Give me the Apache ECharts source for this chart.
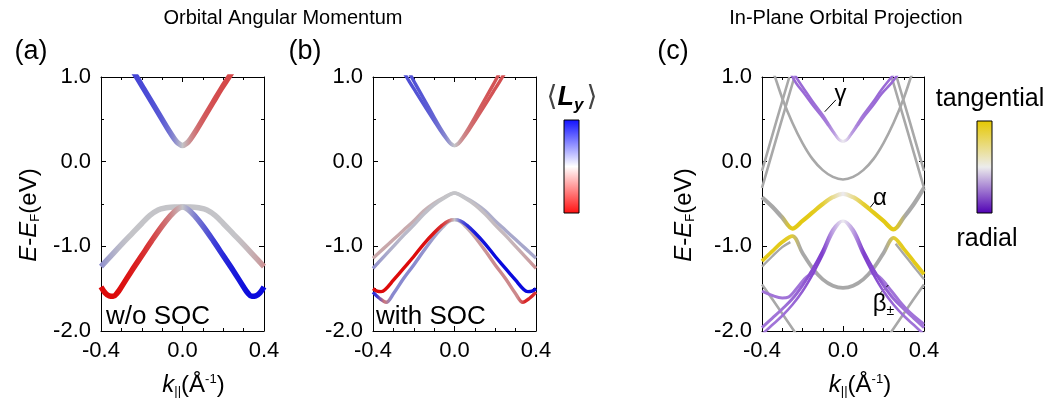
<!DOCTYPE html>
<html><head><meta charset="utf-8">
<script src="https://cdn.jsdelivr.net/npm/echarts@6/dist/echarts.min.js"></script>
<style>html,body{margin:0;padding:0;background:#fff}#c{width:1051px;height:407px}</style>
</head><body><div id="c"></div><script>
// ---------- tick labels ----------
const xTickValues = [-0.4, 0.0, 0.4];
const yTickValues = [1.0, 0.0, -1.0, -2.0];

// ---------- panel (a): w/o SOC ----------
const kA1 = [-0.26,-0.225,-0.19,-0.15,-0.10,-0.07,-0.04,-0.02,0,0.02,0.04,0.07,0.10,0.15,0.19,0.228,0.26];
const eA1 = [1.13,1.00,0.86,0.70,0.50,0.38,0.27,0.215,0.19,0.215,0.27,0.38,0.50,0.70,0.86,1.00,1.12];
const lyA1 = [0.65,0.65,0.63,0.6,0.54,0.45,0.3,0.15,0,-0.15,-0.3,-0.45,-0.54,-0.6,-0.63,-0.65,-0.65];

const kA2 = [-0.4,-0.35,-0.3,-0.25,-0.2,-0.16,-0.12,-0.08,-0.04,0,0.04,0.08,0.12,0.16,0.2,0.25,0.3,0.35,0.4];
const eA2 = [-1.24,-1.11,-0.98,-0.855,-0.73,-0.635,-0.57,-0.545,-0.535,-0.535,-0.535,-0.545,-0.57,-0.635,-0.73,-0.855,-0.98,-1.11,-1.24];
const lyA2 = [0.3,0.15,0.05,0,0,0,0,0,0,0,0,0,0,0,0,0,-0.05,-0.15,-0.3];

const kA3 = [-0.4,-0.38,-0.36,-0.34,-0.32,-0.3,-0.25,-0.2,-0.15,-0.1,-0.06,-0.03,0,0.03,0.06,0.1,0.15,0.2,0.25,0.3,0.32,0.34,0.36,0.38,0.4];
const eA3 = [-1.48,-1.55,-1.585,-1.59,-1.55,-1.48,-1.29,-1.11,-0.93,-0.76,-0.64,-0.57,-0.535,-0.57,-0.64,-0.76,-0.93,-1.11,-1.29,-1.48,-1.55,-1.59,-1.585,-1.55,-1.48];
const lyA3 = [-0.95,-0.95,-0.95,-0.95,-0.95,-0.93,-0.88,-0.8,-0.68,-0.5,-0.35,-0.18,0,0.18,0.35,0.5,0.68,0.8,0.88,0.93,0.95,0.95,0.95,0.95,0.95];

// ---------- panel (b): with SOC ----------
const kB1 = [-0.27,-0.22,-0.19,-0.15,-0.10,-0.07,-0.04,-0.02,0,0.02,0.04,0.07,0.10,0.15,0.19,0.22,0.27];
const eB1a = [1.24,1.04,0.91,0.74,0.525,0.40,0.287,0.221,0.19,0.221,0.287,0.40,0.525,0.74,0.91,1.04,1.24];
const eB1b = [1.14,0.94,0.825,0.672,0.482,0.372,0.27,0.213,0.19,0.213,0.27,0.372,0.482,0.672,0.825,0.94,1.14];
const lyB1 = [0.6,0.6,0.58,0.56,0.5,0.42,0.3,0.15,0,-0.15,-0.3,-0.42,-0.5,-0.56,-0.58,-0.6,-0.6];

const kB2 = [-0.4,-0.35,-0.3,-0.25,-0.2,-0.15,-0.1,-0.05,0,0.05,0.1,0.15,0.2,0.25,0.3,0.35,0.4];
const eB2a = [-1.14,-1.03,-0.92,-0.81,-0.70,-0.58,-0.49,-0.42,-0.37,-0.42,-0.49,-0.58,-0.70,-0.81,-0.92,-1.03,-1.14];
const eB2b = [-1.26,-1.13,-1.00,-0.87,-0.75,-0.62,-0.51,-0.43,-0.37,-0.43,-0.51,-0.62,-0.75,-0.87,-1.00,-1.13,-1.26];
const lyB2a = [-0.15,-0.15,-0.15,-0.14,-0.12,-0.1,-0.06,-0.03,0,0.03,0.06,0.1,0.12,0.14,0.15,0.15,0.15];
const lyB2b = [0.3,0.18,0.1,0.06,0.05,0.03,0.02,0,0,0,-0.02,-0.03,-0.05,-0.06,-0.1,-0.18,-0.3];

const kB3 = [-0.4,-0.38,-0.36,-0.34,-0.3,-0.25,-0.2,-0.15,-0.1,-0.06,-0.03,0,0.03,0.06,0.1,0.15,0.2,0.25,0.3,0.34,0.36,0.38,0.4];
const eB3 = [-1.50,-1.53,-1.535,-1.51,-1.40,-1.26,-1.12,-0.97,-0.84,-0.75,-0.70,-0.685,-0.70,-0.75,-0.84,-0.97,-1.12,-1.26,-1.40,-1.51,-1.535,-1.53,-1.50];
const lyB3 = [-0.95,-0.95,-0.95,-0.95,-0.95,-0.95,-0.95,-0.93,-0.88,-0.75,-0.5,0,0.5,0.75,0.88,0.93,0.95,0.95,0.95,0.95,0.95,0.95,0.95];

const kB4 = [-0.4,-0.37,-0.335,-0.3,-0.25,-0.2,-0.15,-0.1,-0.06,-0.03,0,0.03,0.06,0.1,0.15,0.2,0.25,0.3,0.335,0.37,0.4];
const eB4 = [-1.54,-1.61,-1.66,-1.56,-1.38,-1.22,-1.05,-0.89,-0.78,-0.71,-0.685,-0.71,-0.78,-0.89,-1.05,-1.22,-1.38,-1.56,-1.66,-1.61,-1.54];
const lyB4 = [0.85,0.7,-0.4,0.3,0.3,0.3,0.25,0.2,0.1,0.05,0,-0.05,-0.1,-0.2,-0.25,-0.3,-0.3,-0.3,-0.8,-0.8,-0.6];

// ---------- panel (c): in-plane orbital projection (null = not projected, grey) ----------
const kCg1 = [-0.36,-0.34,-0.3,-0.25,-0.2,-0.15,-0.1,-0.05,0,0.05,0.1,0.15,0.2,0.25,0.3,0.34,0.36];
const eCg1 = [1.15,1.03,0.75,0.46,0.22,0.03,-0.10,-0.18,-0.21,-0.18,-0.10,0.03,0.22,0.46,0.75,1.03,1.15];
const kCg2 = [0.24,0.32,0.4];
const eCg2 = [1.0,0.35,-0.31];
const kCg3 = [0.265,0.33,0.4];
const eCg3 = [1.0,0.47,-0.11];
const kCg4 = [-0.4,-0.32,-0.24];
const eCg4 = [-0.31,0.35,1.0];
const kCg5 = [-0.4,-0.33,-0.265];
const eCg5 = [-0.11,0.47,1.0];
const kCg6 = [-0.4,-0.346,-0.227];
const eCg6 = [-1.45,-1.635,-2.05];
const kCg7 = [0.227,0.346,0.4];
const eCg7 = [-2.05,-1.635,-1.45];
const kCg8 = [-0.4,-0.35,-0.3,-0.26];
const eCg8 = [-1.24,-1.12,-1.01,-0.95];
const kCg9 = [0.26,0.3,0.35,0.4];
const eCg9 = [-0.97,-1.09,-1.24,-1.39];

const kCgam = [-0.26,-0.232,-0.19,-0.15,-0.10,-0.07,-0.04,-0.02,0,0.02,0.04,0.07,0.10,0.15,0.19,0.24,0.27];
const eCgam1 = [1.12,1.00,0.85,0.71,0.55,0.44,0.33,0.265,0.24,0.265,0.33,0.44,0.55,0.71,0.85,1.00,1.10];
const eCgam2 = [1.05,0.93,0.80,0.67,0.52,0.42,0.32,0.26,0.24,0.26,0.32,0.42,0.52,0.67,0.80,0.93,1.03];
const opCgam = [-0.6,-0.6,-0.6,-0.6,-0.55,-0.5,-0.35,-0.15,0,-0.15,-0.35,-0.5,-0.55,-0.6,-0.6,-0.6,-0.6];

const kCa = [-0.4,-0.35,-0.3,-0.25,-0.2,-0.15,-0.1,-0.05,0,0.05,0.1,0.15,0.2,0.25,0.3,0.35,0.4];
const eCa = [-0.42,-0.53,-0.66,-0.79,-0.70,-0.60,-0.50,-0.42,-0.38,-0.42,-0.50,-0.60,-0.70,-0.80,-0.66,-0.50,-0.31];
const opCa = [null,null,null,0.9,0.92,0.9,0.8,0.4,0,0.4,0.8,0.9,0.92,0.9,null,null,null];

const kCl = [-0.4,-0.35,-0.3,-0.25,-0.2,-0.15,-0.1,-0.05,0,0.05,0.1,0.15,0.2,0.25,0.3,0.35,0.4];
const eCl = [-1.175,-1.06,-0.95,-0.88,-1.08,-1.26,-1.39,-1.465,-1.49,-1.465,-1.39,-1.26,-1.08,-0.90,-1.03,-1.18,-1.33];
const opCl = [0.9,0.9,0.9,0.8,null,null,null,null,null,null,null,null,null,0.8,0.9,0.9,0.9];

const kCb1 = [-0.4,-0.35,-0.3,-0.25,-0.2,-0.15,-0.1,-0.05,0,0.05,0.1,0.15,0.2,0.25,0.3,0.35,0.4];
const eCb1 = [-1.96,-1.85,-1.74,-1.62,-1.46,-1.27,-1.05,-0.80,-0.70,-0.80,-1.05,-1.27,-1.46,-1.62,-1.74,-1.85,-1.96];
const eCb1b = [-2.04,-1.93,-1.82,-1.69,-1.53,-1.33,-1.10,-0.84,-0.70,-0.84,-1.10,-1.33,-1.53,-1.69,-1.82,-1.93,-2.04];
const opCb1 = [-0.55,-0.55,-0.55,-0.6,-0.65,-0.75,-0.8,-0.35,0,-0.35,-0.8,-0.75,-0.65,-0.6,-0.55,-0.55,-0.55];

const kCb2 = [-0.4,-0.35,-0.3,-0.27,-0.22,-0.18,-0.134];
const eCb2 = [-1.53,-1.58,-1.61,-1.60,-1.47,-1.36,-1.31];
const kCb3 = [0.134,0.18,0.22,0.28,0.33,0.4];
const eCb3 = [-1.31,-1.36,-1.47,-1.65,-1.78,-1.92];
const opCb2 = [-0.55,-0.55,-0.55,-0.55,-0.55,-0.5,-0.4];
const opCb3 = [-0.4,-0.5,-0.55,-0.55,-0.55,-0.55];

// ---------- helpers ----------
const FONT = '"Liberation Sans", Arial, "DejaVu Sans", sans-serif';
function mix(a, b, t) { return a.map((v, i) => Math.round(v + (b[i] - v) * t)); }
function rgb(c) { return 'rgb(' + c.join(',') + ')'; }
function lyColor(v) {            // <L_y>: red (-) / grey-white (0) / blue (+)
  const red = [222, 0, 0], mid = [196, 196, 200], blue = [0, 0, 222];
  return rgb(v < 0 ? mix(mid, red, -v) : mix(mid, blue, v));
}
function opColor(v) {            // radial (-) purple / tangential (+) yellow
  if (v === null) return 'rgb(168,168,168)';
  const pur = [100, 20, 196], mid = [236, 234, 240], yel = [226, 198, 0];
  return rgb(v < 0 ? mix(mid, pur, -v) : mix(mid, yel, v));
}
function gradient(ks, vals, cmap) {
  const k0 = ks[0], kN = ks[ks.length - 1];
  return { type: 'linear', x: 0, y: 0, x2: 1, y2: 0, global: false,
    colorStops: ks.map((k, i) => ({ offset: (k - k0) / (kN - k0), color: cmap(vals[i]) })) };
}
function band(grid, ks, es, vals, cmap, width, z, extra) {
  const s = {
    type: 'line', xAxisIndex: grid, yAxisIndex: grid, z: z || 2,
    data: ks.map((k, i) => [k, es[i]]), smooth: ks.length > 3 ? 0.35 : false, showSymbol: false, symbol: 'none',
    silent: true, animation: false, clip: true,
    lineStyle: { width: width, color: vals ? gradient(ks, vals, cmap) : cmap, cap: 'butt', join: 'round' }
  };
  return Object.assign(s, extra || {});
}
const GREY = 'rgb(168,168,168)';

// ---------- grids / axes ----------
const grids = [
  { left: 101, top: 77, width: 163, height: 254 },
  { left: 373, top: 77, width: 163, height: 254 },
  { left: 762, top: 77, width: 162, height: 254 }
];
const tickStyle = { color: '#000', fontSize: 22, fontFamily: FONT };
const xAxes = [], yAxes = [];
const richName = {
  i: { fontStyle: 'italic', fontSize: 24, fontFamily: FONT, color: '#000' },
  n: { fontSize: 24, fontFamily: FONT, color: '#000' },
  s: { fontSize: 13, fontFamily: FONT, color: '#000', padding: [13, 0, 0, 0] },
  p: { fontSize: 13, fontFamily: FONT, color: '#000', padding: [0, 0, 11, 0] }
};
grids.forEach((g, i) => {
  const common = {
    gridIndex: i, type: 'value', min: -0.4, max: 0.4, interval: 0.4,
    axisLine: { show: true, onZero: false, lineStyle: { color: '#000', width: 1 } },
    axisTick: { show: true, inside: true, length: 5, lineStyle: { color: '#000' } },
    minorTick: { show: true, splitNumber: 4, length: 3, lineStyle: { color: '#000' } },
    splitLine: { show: false }
  };
  xAxes.push(Object.assign({}, common, {
    position: 'bottom',
    axisLabel: { show: true, margin: 9, formatter: v => xTickValues.includes(+v.toFixed(1)) ? v.toFixed(1) : '', ...tickStyle },
    name: (i === 1) ? '' : '{i|k}{s|||}{n|(Å}{p|-1}{n|)}',
    nameLocation: 'middle', nameGap: 41,
    nameTextStyle: { rich: richName, padding: [0, 0, 0, (i === 0 ? 22 : 34)] }
  }));
  yAxes.push({
    gridIndex: i, type: 'value', min: -2, max: 1, interval: 1, position: 'left',
    axisLine: { show: true, onZero: false, lineStyle: { color: '#000', width: 1 } },
    axisTick: { show: true, inside: true, length: 5, lineStyle: { color: '#000' } },
    minorTick: { show: true, splitNumber: 2, length: 3, lineStyle: { color: '#000' } },
    splitLine: { show: false },
    axisLabel: { show: true, margin: 10, formatter: v => yTickValues.includes(+v.toFixed(1)) ? v.toFixed(1) : '', ...tickStyle },
    name: (i === 1) ? '' : '{i|E}{n|-}{i|E}{s|F}{n|(eV)}',
    nameLocation: 'middle', nameRotate: 90, nameGap: (i === 0 ? 59 : 65),
    nameTextStyle: { rich: richName, padding: [0, 22, 0, 0] }
  });
});
grids.forEach((g, i) => {
  xAxes.push({
    gridIndex: i, type: 'value', min: -0.4, max: 0.4, interval: 0.4, position: 'top',
    axisLine: { show: true, onZero: false, lineStyle: { color: '#000', width: 1 } },
    axisTick: { show: true, inside: true, length: 5, lineStyle: { color: '#000' } },
    minorTick: { show: true, splitNumber: 4, length: 3, lineStyle: { color: '#000' } },
    axisLabel: { show: false }, splitLine: { show: false }
  });
  yAxes.push({
    gridIndex: i, type: 'value', min: -2, max: 1, interval: 1, position: 'right',
    axisLine: { show: true, onZero: false, lineStyle: { color: '#000', width: 1 } },
    axisTick: { show: true, inside: true, length: 5, lineStyle: { color: '#000' } },
    minorTick: { show: true, splitNumber: 2, length: 3, lineStyle: { color: '#000' } },
    axisLabel: { show: false }, splitLine: { show: false }
  });
});

// ---------- series ----------
const series = [
  band(0, kA2, eA2, lyA2, lyColor, 5.5, 2),
  band(0, kA1, eA1, lyA1, lyColor, 5.5, 3),
  band(0, kA3, eA3, lyA3, lyColor, 5.5, 4),

  band(1, kB2, eB2a, lyB2a, lyColor, 3.4, 2),
  band(1, kB2, eB2b, lyB2b, lyColor, 3.4, 2),
  band(1, kB1, eB1a, lyB1, lyColor, 3.4, 3),
  band(1, kB1, eB1b, lyB1, lyColor, 3.4, 3),
  band(1, kB4, eB4, lyB4, lyColor, 3.4, 4),
  band(1, kB3, eB3, lyB3, lyColor, 3.4, 5),

  band(2, kCg1, eCg1, null, GREY, 2.6, 2),
  band(2, kCg2, eCg2, null, GREY, 2.6, 2),
  band(2, kCg3, eCg3, null, GREY, 2.6, 2),
  band(2, kCg4, eCg4, null, GREY, 2.6, 2),
  band(2, kCg5, eCg5, null, GREY, 2.6, 2),
  band(2, kCg6, eCg6, null, GREY, 2.6, 2),
  band(2, kCg7, eCg7, null, GREY, 2.6, 2),
  band(2, kCg8, eCg8, null, GREY, 2.4, 2),
  band(2, kCg9, eCg9, null, GREY, 2.4, 2),
  band(2, kCl, eCl, opCl, opColor, 3.8, 3),
  band(2, kCb2, eCb2, opCb2, opColor, 3, 4),
  band(2, kCb3, eCb3, opCb3, opColor, 3, 4),
  band(2, kCb1, eCb1b, opCb1, opColor, 2.6, 5),
  band(2, kCb1, eCb1, opCb1, opColor, 3, 5),
  band(2, kCa, eCa, opCa, opColor, 4.2, 6),
  band(2, kCgam, eCgam2, opCgam, opColor, 2.6, 6),
  band(2, kCgam, eCgam1, opCgam, opColor, 2.6, 7, {
    markLine: {
      silent: true, animation: false, symbol: ['none', 'none'],
      lineStyle: { color: '#000', width: 1, type: 'solid' }, label: { show: false },
      data: [
        [{ coord: [-0.09, 0.59] }, { coord: [-0.035, 0.73] }],
        [{ coord: [0.126, -0.565] }, { coord: [0.159, -0.467] }],
        [{ coord: [0.224, -1.457] }, { coord: [0.177, -1.57] }]
      ]
    },
    markPoint: {
      silent: true, animation: false, symbol: 'circle', symbolSize: 1,
      itemStyle: { color: 'rgba(0,0,0,0)' },
      label: { show: true, position: 'inside', color: '#000', fontSize: 24, fontFamily: FONT,
        formatter: p => p.name,
        rich: { b: { fontSize: 24, fontFamily: FONT }, s: { fontSize: 14, fontFamily: FONT, padding: [13, 0, 0, 0] } } },
      data: [
        { name: 'γ', coord: [-0.012, 0.80] },
        { name: 'α', coord: [0.183, -0.43] },
        { name: '{b|β}{s|±}', coord: [0.2, -1.69] }
      ]
    }
  })
];

// ---------- annotations ----------
const graphic = [
  { type: 'text', x: 283, y: 18, style: { text: 'Orbital Angular Momentum', font: '20px ' + FONT, fill: '#000', align: 'center', verticalAlign: 'middle' } },
  { type: 'text', x: 846, y: 18, style: { text: 'In-Plane Orbital Projection', font: '20px ' + FONT, fill: '#000', align: 'center', verticalAlign: 'middle' } },
  { type: 'text', x: 31, y: 52, style: { text: '(a)', font: '27px ' + FONT, fill: '#000', align: 'center', verticalAlign: 'middle' } },
  { type: 'text', x: 305, y: 52, style: { text: '(b)', font: '27px ' + FONT, fill: '#000', align: 'center', verticalAlign: 'middle' } },
  { type: 'text', x: 673, y: 52, style: { text: '(c)', font: '27px ' + FONT, fill: '#000', align: 'center', verticalAlign: 'middle' } },
  { type: 'text', x: 106, y: 317, style: { text: 'w/o SOC', font: '26px ' + FONT, fill: '#000', align: 'left', verticalAlign: 'middle' } },
  { type: 'text', x: 376, y: 317, style: { text: 'with SOC', font: '26px ' + FONT, fill: '#000', align: 'left', verticalAlign: 'middle' } },
  { type: 'rect', shape: { x: 564, y: 120, width: 15, height: 93 },
    style: { stroke: '#000', lineWidth: 1,
      fill: { type: 'linear', x: 0, y: 0, x2: 0, y2: 1, colorStops: [
        { offset: 0, color: '#1010ff' }, { offset: 0.5, color: '#ffffff' }, { offset: 1, color: '#ff1010' }] } } },
  { type: 'text', x: 572, y: 98, style: {
      text: '{a|⟨}{L|L}{y|y}{a|⟩}', align: 'center', verticalAlign: 'middle',
      rich: { a: { fontSize: 28, fontFamily: '"DejaVu Sans", sans-serif', fill: '#444' },
              L: { fontSize: 27, fontFamily: FONT, fontStyle: 'italic', fontWeight: 'bold', fill: '#000' },
              y: { fontSize: 17, fontFamily: FONT, fontStyle: 'italic', fontWeight: 'bold', fill: '#000', padding: [14, 3, 0, 0] } } } },
  { type: 'rect', shape: { x: 977, y: 121, width: 15, height: 92 },
    style: { stroke: '#000', lineWidth: 1,
      fill: { type: 'linear', x: 0, y: 0, x2: 0, y2: 1, colorStops: [
        { offset: 0, color: '#e6c800' }, { offset: 0.5, color: '#ececec' }, { offset: 1, color: '#5000b4' }] } } },
  { type: 'text', x: 990, y: 99, style: { text: 'tangential', font: '25px ' + FONT, fill: '#000', align: 'center', verticalAlign: 'middle' } },
  { type: 'text', x: 987, y: 239, style: { text: 'radial', font: '25px ' + FONT, fill: '#000', align: 'center', verticalAlign: 'middle' } }
];

const chart = echarts.init(document.getElementById('c'), null, { renderer: 'canvas' });
chart.setOption({
  animation: false, backgroundColor: '#fff',
  grid: grids, xAxis: xAxes, yAxis: yAxes, series: series, graphic: graphic
});
</script></body></html>
